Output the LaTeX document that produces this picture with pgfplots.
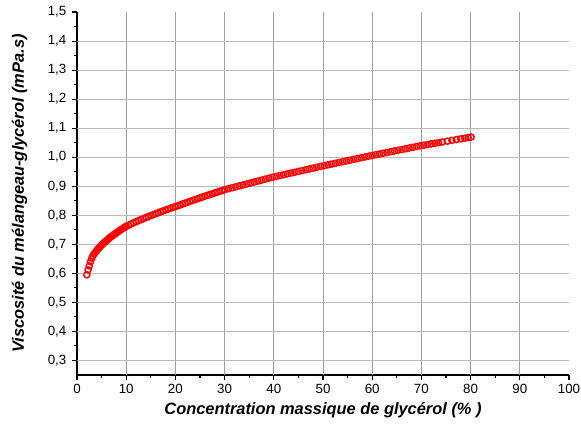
\documentclass[border=0pt]{standalone}
\usepackage{fontspec}
\setmainfont{Liberation Sans}
\usepackage{pgfplots}
\pgfplotsset{compat=1.18}

\begin{document}
\begin{tikzpicture}
\begin{axis}[
  scale only axis, width=369pt, height=272.25pt,
  xmin=0, xmax=100, ymin=0.25, ymax=1.5,
  axis x line*=bottom, axis y line*=left,
  axis line style={-, black, line width=0.8pt},
  xtick={0,10,...,100}, ytick={0.3,0.4,0.5,0.6,0.7,0.8,0.9,1.0,1.1,1.2,1.3,1.4,1.5},
  minor x tick num=1, minor y tick num=1,
  tick align=outside, major tick length=3.5pt, minor tick length=2pt,
  tick style={black, line width=0.8pt},
  /pgf/number format/assume math mode=true,
  /pgf/number format/use comma,
  yticklabel style={/pgf/number format/fixed, /pgf/number format/fixed zerofill, /pgf/number format/precision=1, xshift=-1pt},
  ticklabel style={font=\fontsize{10}{12}\selectfont},
  extra x ticks={10,20,30,40,50,60,70,80,90}, extra x tick labels={},
  extra x tick style={grid=major, major tick length=0pt, major grid style={gray!75, line width=0.6pt}},
  extra y ticks={0.3,0.4,0.5,0.6,0.7,0.8,0.9,1.0,1.1,1.2,1.3,1.4}, extra y tick labels={},
  extra y tick style={grid=major, major tick length=0pt, major grid style={gray!55, line width=0.8pt}},
  xlabel={\bfseries\itshape Concentration massique de glycérol (\% )},
  ylabel={\bfseries\itshape Viscosité du mélangeau-glycérol (mPa.s)},
  label style={font=\fontsize{12.3}{14}\selectfont},
  xlabel style={yshift=4pt},
  ylabel style={yshift=5pt},
  clip=false,
]
\coordinate (ll) at (rel axis cs:0,0);
\coordinate (ur) at (rel axis cs:1,1);
\addplot[only marks, mark=o, mark size=2.3pt, color=red, mark options={line width=1.1pt}] coordinates {
(2,0.595) (2.25,0.612) (2.5,0.626) (2.75,0.640) (3,0.652) (3.25,0.661) (3.5,0.667) (3.75,0.673)
(4,0.6785) (4.25,0.6836) (4.5,0.6884) (4.75,0.6929) (5,0.6973) (5.25,0.7014) (5.5,0.7055) (5.75,0.7093)
(6,0.7131) (6.25,0.7167) (6.5,0.7203) (6.75,0.7237) (7,0.7270) (7.25,0.7303) (7.5,0.7335) (7.75,0.7366)
(8,0.7396) (8.25,0.7426) (8.5,0.7455) (8.75,0.7484) (9,0.7512) (9.25,0.7540) (9.5,0.7567) (9.75,0.7594)
(10,0.762) (10.5,0.766) (11,0.770) (11.5,0.774) (12,0.778) (12.5,0.7815) (13,0.785) (13.5,0.7885)
(14,0.792) (14.5,0.7955) (15,0.799) (15.5,0.802) (16,0.8055) (16.5,0.8085) (17,0.812) (17.5,0.815)
(18,0.818) (18.5,0.821) (19,0.824) (19.5,0.827) (20,0.830) (20.5,0.833) (21,0.836) (21.5,0.839)
(22,0.842) (22.5,0.845) (23,0.848) (23.5,0.851) (24,0.854) (24.5,0.857) (25,0.860) (25.5,0.863)
(26,0.866) (26.5,0.8685) (27,0.8715) (27.5,0.874) (28,0.877) (28.5,0.8795) (29,0.8825) (29.5,0.885)
(30,0.888) (30.75,0.8913) (31.5,0.8946) (32.25,0.8979) (33,0.9012) (33.75,0.9045) (34.5,0.9078)
(35.25,0.9111) (36,0.9144) (36.75,0.9177) (37.5,0.9210) (38.25,0.9243) (39,0.9276) (39.75,0.9309)
(40.5,0.9339) (41.25,0.9368) (42,0.9396) (42.75,0.9425) (43.5,0.9453) (44.25,0.9482) (45,0.9510)
(45.75,0.9539) (46.5,0.9567) (47.25,0.9596) (48,0.9624) (48.75,0.9653) (49.5,0.9681)
(50.25,0.9709) (51,0.9736) (51.75,0.9763) (52.5,0.9790) (53.25,0.9817) (54,0.9844) (54.75,0.9871)
(55.5,0.9898) (56.25,0.9925) (57,0.9952) (57.75,0.9979) (58.5,1.0006) (59.25,1.0033) (60,1.0060)
(60.75,1.0086) (61.5,1.0111) (62.25,1.0137) (63,1.0162) (63.75,1.0188) (64.5,1.0213) (65.25,1.0239)
(66,1.0264) (66.75,1.0290) (67.5,1.0315) (68.25,1.0341) (69,1.0366) (69.75,1.0392)
(70.5,1.0415) (71.25,1.0436) (72,1.0458) (72.75,1.0480) (73.5,1.0502) (74.2,1.0522)
(75.3,1.0554) (76.2,1.0580) (77.1,1.0606) (78,1.0632) (78.8,1.0655) (79.5,1.0676) (80.1,1.0693)
};
\end{axis}
\pgfresetboundingbox
\path ([shift={(-57.75pt,-36.75pt)}]ll) rectangle ([shift={(9pt,9pt)}]ur);
\end{tikzpicture}
\end{document}
